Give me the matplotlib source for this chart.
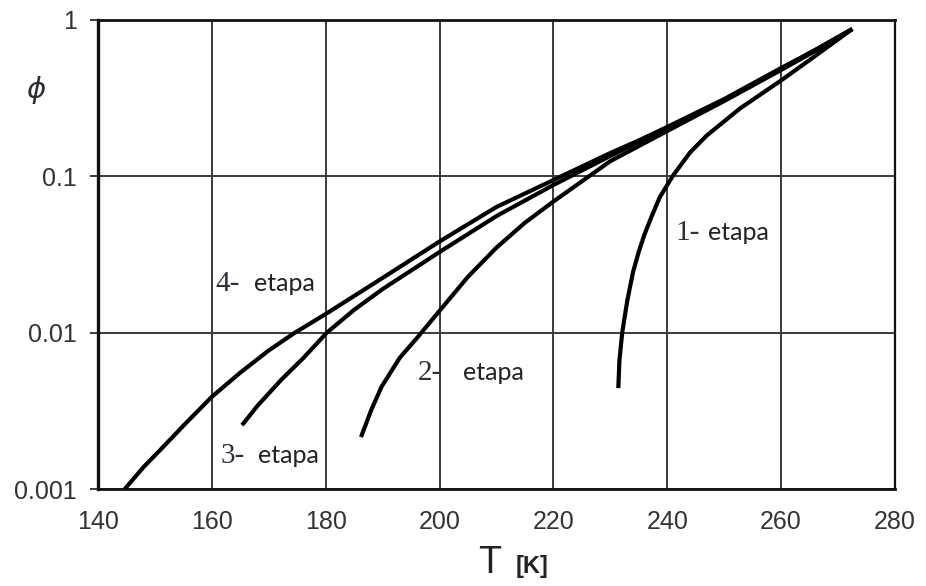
import matplotlib
matplotlib.use("Agg")
import matplotlib.pyplot as plt
from matplotlib.ticker import FixedLocator, FixedFormatter, NullLocator

# Stage curves: temperature T [K] and phi
t_stage1 = [231.4, 231.6, 232.1, 233.0, 234.0, 235.0, 236.0, 237.3, 238.7, 241.0, 244.0, 246.9, 252.8, 260.1, 265.6, 272.5]
phi_stage1 = [0.00442, 0.00668, 0.0101, 0.0162, 0.0245, 0.033, 0.0425, 0.056, 0.0737, 0.101, 0.142, 0.182, 0.272, 0.413, 0.575, 0.875]

t_stage2 = [186.2, 188.0, 189.8, 193.0, 196.2, 200.0, 205.0, 210.0, 215.0, 220.0, 230.0, 240.0, 250.0, 260.0, 266.0, 272.5]
phi_stage2 = [0.00215, 0.0032, 0.0045, 0.0069, 0.0094, 0.0138, 0.0228, 0.0350, 0.0505, 0.069, 0.125, 0.195, 0.303, 0.479, 0.634, 0.875]

t_stage3 = [165.3, 168.0, 172.2, 176.0, 180.2, 185.0, 190.0, 200.0, 210.0, 220.0, 230.0, 240.0, 250.0, 260.0, 266.0, 272.5]
phi_stage3 = [0.00256, 0.0034, 0.0050, 0.00684, 0.0100, 0.0140, 0.019, 0.0328, 0.0557, 0.088, 0.135, 0.204, 0.308, 0.486, 0.643, 0.875]

t_stage4 = [144.7, 148.0, 151.7, 155.0, 160.0, 165.0, 170.0, 174.6, 180.2, 190.0, 200.0, 210.0, 220.0, 230.0, 235.2, 240.0, 250.0, 260.0, 266.0, 272.5]
phi_stage4 = [0.001, 0.00138, 0.0019, 0.00254, 0.00389, 0.00555, 0.0077, 0.0100, 0.0133, 0.0224, 0.0383, 0.0637, 0.0947, 0.141, 0.171, 0.207, 0.312, 0.493, 0.643, 0.875]

x_ticks = [140, 160, 180, 200, 220, 240, 260, 280]
y_ticks = [0.001, 0.01, 0.1, 1]
y_tick_labels = ["0.001", "0.01", "0.1", "1"]

stage_numbers = ["1-", "2-", "3-", "4-"]
stage_word = "etapa"

fig = plt.figure(figsize=(9.26, 5.86), dpi=100)
ax = fig.add_axes([0.1058, 0.1655, 0.8607, 0.8004])

ax.set_yscale("log")
ax.set_xlim(140, 280)
ax.set_ylim(0.001, 1)

# grid
ax.xaxis.set_major_locator(FixedLocator(x_ticks))
ax.yaxis.set_major_locator(FixedLocator(y_ticks))
ax.yaxis.set_major_formatter(FixedFormatter(y_tick_labels))
ax.yaxis.set_minor_locator(NullLocator())
ax.grid(True, which="major", color="#3a3a3a", linewidth=1.4)
ax.set_axisbelow(True)

for side in ["left", "bottom", "top", "right"]:
    ax.spines[side].set_color("#111111")
ax.spines["left"].set_linewidth(2.4)
ax.spines["bottom"].set_linewidth(2.0)
ax.spines["top"].set_linewidth(2.0)
ax.spines["right"].set_linewidth(1.6)

tick_family = ["Liberation Sans", "DejaVu Sans"]
ax.tick_params(axis="y", length=6, width=1.4, color="#3a3a3a", pad=9, labelcolor="#333333")
ax.tick_params(axis="x", length=0, pad=15, labelcolor="#333333")
for lab in ax.get_xticklabels() + ax.get_yticklabels():
    lab.set_fontfamily(tick_family)
    lab.set_fontsize(18)

curves = [(t_stage1, phi_stage1), (t_stage2, phi_stage2),
          (t_stage3, phi_stage3), (t_stage4, phi_stage4)]
for t, phi in curves:
    ax.plot(t, phi, color="black", linewidth=3.0,
            solid_joinstyle="round", solid_capstyle="butt", zorder=3)

# stage labels: serif number, sans word, shared baseline
label_anchor = [
    (241.5, 247.1, 0.0391),
    (196.2, 204.1, 0.00497),
    (161.6, 168.1, 0.001466),
    (160.6, 167.4, 0.01845),
]
for num, (tx_num, tx_word, base) in zip(stage_numbers, label_anchor):
    ax.text(tx_num, base, num, family=["Liberation Serif", "DejaVu Serif"],
            fontsize=21, color="#2f2f3a", va="baseline", ha="left", zorder=4)
    ax.text(tx_word, base, stage_word, family=["Lato", "DejaVu Sans"],
            fontsize=18, color="#222222", va="baseline", ha="left", zorder=4)

# axis titles
fig.text(490 / 926, 1 - 563 / 586, "T", family=tick_family,
         fontsize=27, color="#222222", ha="center", va="center")
fig.text(516 / 926, 1 - 567 / 586, "[K]", family=tick_family,
         fontsize=17, fontweight="bold", color="#222222", ha="left", va="center")
fig.text(36 / 926, 1 - 90 / 586, r"$\phi$", fontsize=21, color="#2a2a3a",
         ha="center", va="center")

fig.savefig("out.png", dpi=100, facecolor="white")
